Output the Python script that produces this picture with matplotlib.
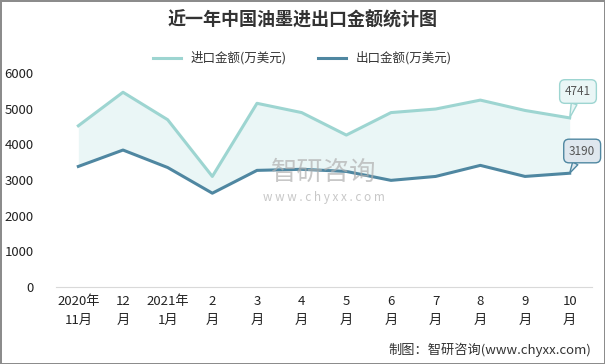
import matplotlib.pyplot as plt

plt.rcParams['font.family'] = ['Noto Sans CJK SC', 'DejaVu Sans']

months = ["2020年\n11月", "12\n月", "2021年\n1月", "2\n月", "3\n月", "4\n月",
          "5\n月", "6\n月", "7\n月", "8\n月", "9\n月", "10\n月"]
imports = [4520, 5460, 4690, 3100, 5150, 4890, 4260, 4890, 4990, 5240, 4950, 4741]
exports = [3380, 3840, 3350, 2630, 3270, 3300, 3240, 2990, 3100, 3410, 3100, 3190]

LIGHT = "#9dd5d1"
DARK = "#4f87a1"


def plot_trade(months, imports, exports):
    fig = plt.figure(figsize=(6.05, 3.64), dpi=100)
    fig.patch.set_edgecolor("#8c8c8c")
    fig.patch.set_linewidth(2)
    ax = fig.add_axes([56 / 605, 77 / 364, 536 / 605, 214 / 364])

    x = list(range(len(months)))
    ax.fill_between(x, imports, exports, color="#eaf6f6", lw=0)
    ax.plot(x, imports, color=LIGHT, lw=2.2, label="进口金额(万美元)")
    ax.plot(x, exports, color=DARK, lw=2.2, label="出口金额(万美元)")

    ax.set_xlim(-0.5, len(months) - 0.5)
    ax.set_ylim(0, 6000)
    ax.set_yticks(range(0, 6001, 1000))
    ax.set_xticks(x)
    ax.set_xticklabels(months, linespacing=1.6)
    ax.tick_params(axis="both", length=0, labelsize=9.5, colors="#222222")
    ax.tick_params(axis="y", pad=16)
    ax.tick_params(axis="x", pad=6)
    for side in ["left", "right", "top"]:
        ax.spines[side].set_visible(False)
    ax.spines["bottom"].set_color("#d9d9d9")

    last = len(months) - 1
    ax.annotate(str(imports[-1]), (last, imports[-1]), xytext=(6, 19),
                textcoords="offset points", ha="center", va="center",
                fontsize=8.5, color="#555555",
                bbox=dict(boxstyle="round,pad=0.45", fc="#eaf6f6", ec=LIGHT, lw=1),
                arrowprops=dict(arrowstyle="wedge,tail_width=0.5", fc="#eaf6f6",
                                ec=LIGHT, lw=1, shrinkA=0, shrinkB=0))
    ax.annotate(str(exports[-1]), (last, exports[-1]), xytext=(9, 16),
                textcoords="offset points", ha="center", va="center",
                fontsize=8.5, color="#555555",
                bbox=dict(boxstyle="round,pad=0.45", fc="#dfe7ee", ec=DARK, lw=1),
                arrowprops=dict(arrowstyle="wedge,tail_width=0.5", fc="#dfe7ee",
                                ec=DARK, lw=1, shrinkA=0, shrinkB=0))

    # watermark
    ax.text(0.5, 0.535, "智研咨询", transform=ax.transAxes, ha="center",
            va="center", fontsize=19, color="#b0b0b0", alpha=0.7)
    ax.text(0.5, 0.42, "w w w . c h y x x . c o m", transform=ax.transAxes,
            ha="center", va="center", fontsize=8.5, color="#b0b0b0", alpha=0.7)

    fig.text(0.5, 0.945, "近一年中国油墨进出口金额统计图", ha="center", va="center",
             fontsize=13, fontweight="bold", color="#333333")
    fig.legend(loc="center", bbox_to_anchor=(0.5, 0.84), ncol=2, frameon=False,
               fontsize=9, handlelength=2.2, columnspacing=2.5,
               labelcolor="#333333")
    fig.text(0.978, 0.04, "制图：智研咨询(www.chyxx.com)", ha="right",
             va="center", fontsize=9.5, color="#333333")

    fig.savefig("out.png", dpi=100, edgecolor=fig.get_edgecolor())


plot_trade(months, imports, exports)
